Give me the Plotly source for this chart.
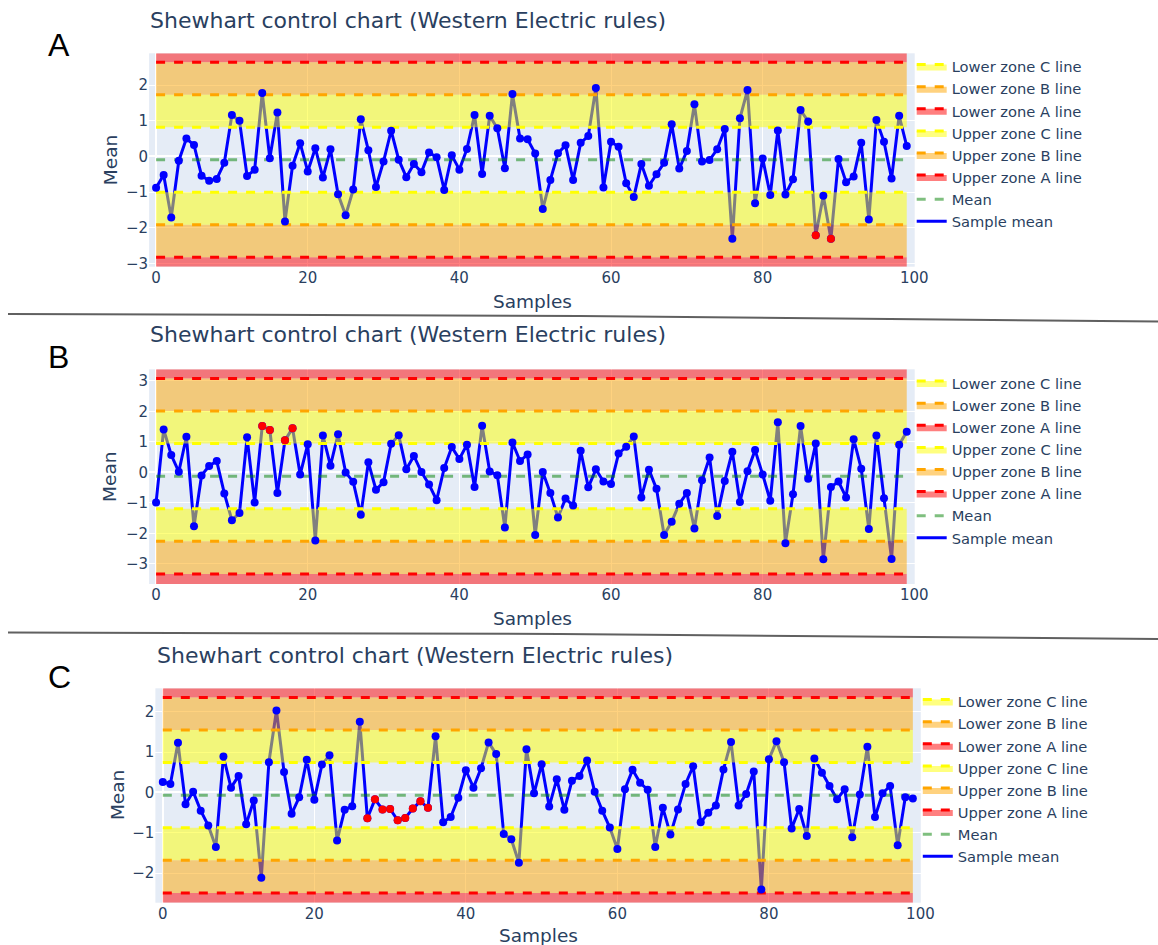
import plotly.graph_objects as go

W, H = 1158, 945

samples = list(range(100))

mean_A = [-0.88, -0.52, -1.71, -0.12, 0.50, 0.32, -0.54, -0.68, -0.63, -0.18,
          1.16, 1.00, -0.55, -0.37, 1.78, -0.05, 1.23, -1.82, -0.26, 0.37,
          -0.42, 0.23, -0.59, 0.20, -1.06, -1.65, -0.93, 1.04, 0.17, -0.86,
          -0.14, 0.72, -0.09, -0.58, -0.21, -0.44, 0.11, -0.02, -0.94, 0.03,
          -0.37, 0.21, 1.16, -0.49, 1.14, 0.79, -0.33, 1.75, 0.50, 0.48,
          0.08, -1.47, -0.66, 0.09, 0.31, -0.66, 0.38, 0.57, 1.92, -0.87,
          0.41, 0.27, -0.75, -1.14, -0.21, -0.82, -0.50, -0.18, 0.90, -0.34,
          0.15, 1.46, -0.14, -0.10, 0.20, 0.77, -2.31, 1.07, 1.86, -1.31,
          -0.06, -1.08, 0.73, -1.07, -0.64, 1.30, 0.98, -2.21, -1.10, -2.31,
          -0.07, -0.72, -0.56, 0.38, -1.77, 1.02, 0.41, -0.62, 1.14, 0.29]

mean_B = [-0.99, 1.41, 0.57, 0.02, 1.17, -1.77, -0.10, 0.21, 0.37, -0.69,
          -1.57, -1.33, 1.15, -0.99, 1.52, 1.39, -0.68, 1.05, 1.45, -0.07,
          0.92, -2.23, 1.21, 0.22, 1.25, 0.00, -0.31, -1.39, 0.33, -0.57,
          -0.32, 0.94, 1.22, 0.10, 0.54, 0.01, -0.40, -0.91, 0.14, 0.83,
          0.44, 0.91, -0.48, 1.53, 0.03, -0.09, -1.81, 0.98, 0.37, 0.59,
          -2.05, 0.01, -0.68, -1.48, -0.86, -1.09, 0.71, -0.49, 0.10, -0.30,
          -0.38, 0.62, 0.84, 1.18, -0.82, 0.09, -0.54, -2.05, -1.62, -1.03,
          -0.68, -1.84, -0.26, 0.49, -1.43, -0.28, 0.68, -0.97, 0.04, 0.73,
          -0.07, -0.93, 1.64, -2.32, -0.72, 1.52, -0.21, 0.95, -2.85, -0.48,
          -0.30, -0.82, 1.09, 0.12, -1.86, 1.21, -0.85, -2.84, 0.91, 1.33]

mean_C = [0.26, 0.21, 1.23, -0.29, 0.02, -0.45, -0.82, -1.35, 0.89, 0.12,
          0.41, -0.79, -0.20, -2.11, 0.75, 2.03, 0.51, -0.53, -0.12, 0.81,
          -0.18, 0.69, 0.92, -1.19, -0.43, -0.34, 1.75, -0.64, -0.17, -0.42,
          -0.41, -0.69, -0.63, -0.40, -0.22, -0.38, 1.39, -0.74, -0.61, -0.13,
          0.55, 0.12, 0.60, 1.24, 0.95, -1.03, -1.16, -1.74, 1.07, -0.02,
          0.70, -0.35, 0.33, -0.43, 0.29, 0.41, 0.79, 0.02, -0.45, -0.87,
          -1.40, 0.08, 0.56, 0.24, 0.07, -1.35, -0.38, -1.04, -0.42, 0.21,
          0.65, -0.74, -0.50, -0.32, 0.57, 1.25, -0.32, -0.04, 0.52, -2.40,
          0.82, 1.27, 0.75, -0.89, -0.41, -1.08, 0.84, 0.49, 0.16, -0.17,
          0.08, -1.11, -0.05, 1.13, -0.61, -0.02, 0.16, -1.31, -0.12, -0.15]

violations_A = [87, 89]
violations_B = [14, 15, 17, 18]
violations_C = [27, 28, 29, 30, 31, 32, 33, 34, 35]

center_lines = [-0.095, -0.125, -0.066]
sigmas = [0.911, 1.068, 0.807]
y_ranges = [[-3.09, 2.89], [-3.66, 3.38], [-2.73, 2.58]]
x_ranges = [[-0.92, 100.05], [-0.92, 100.05], [-0.98, 100.05]]

panel_letters = ["A", "B", "C"]
chart_title = "Shewhart control chart (Western Electric rules)"
x_title = "Samples"
y_title = "Mean"

# pixel geometry of each panel's plot area: left, top, right, bottom
plot_boxes = [(149.1, 53.3, 914.7, 266.7),
              (149.1, 369.3, 914.7, 584.0),
              (155.4, 688.3, 920.8, 902.7)]
title_pos = [(148, 20), (148, 335), (155.4, 655)]
letter_pos = [(58.5, 45), (58.5, 357), (59.2, 677)]
legend_pos = [(911.7, 50.5), (911.7, 367), (917.8, 685.5)]
ytitle_pos = [(110.2, 160), (110.2, 476.7), (117.6, 795.5)]
xtitle_pos = [(532, 301.7), (532, 618.3), (538, 935)]

FONT = "DejaVu Sans"
TXT = "#2a3f5f"


def px_x(x):
    return x / W


def px_y(y):
    return 1 - y / H


fig = go.Figure()

datasets = [(mean_A, violations_A), (mean_B, violations_B), (mean_C, violations_C)]
zone_colors = {"A": ("red", "rgba(255,0,0,0.5)"),
               "B": ("orange", "rgba(255,165,0,0.5)"),
               "C": ("yellow", "rgba(255,255,0,0.5)")}
zone_k = {"A": 3, "B": 2, "C": 1}

layout_axes = {}
annotations = []
legends = {}

for p, (vals, viol) in enumerate(datasets):
    suffix = "" if p == 0 else str(p + 1)
    xa, ya = "x" + suffix, "y" + suffix
    lg = "legend" + suffix
    c, s = center_lines[p], sigmas[p]
    yr = y_ranges[p]
    x_end = samples[-1]
    common = dict(xaxis=xa, yaxis=ya, legend=lg, hoverinfo="skip")

    fig.add_trace(go.Scatter(x=samples, y=vals, mode="lines", name="Sample mean",
                             line=dict(color="blue", width=3), **common))
    fig.add_trace(go.Scatter(x=[0, x_end], y=[c, c], mode="lines", name="Mean",
                             line=dict(color="rgba(0,128,0,0.5)", width=3, dash="dash"),
                             **common))
    # upper zones
    fig.add_trace(go.Scatter(x=[0, x_end], y=[yr[1], yr[1]], mode="lines",
                             line=dict(width=0, color="rgba(0,0,0,0)"), showlegend=False, **common))
    for z in ["A", "B", "C"]:
        col, fcol = zone_colors[z]
        v = c + zone_k[z] * s
        fig.add_trace(go.Scatter(x=[0, x_end], y=[v, v], mode="lines",
                                 name=f"Upper zone {z} line",
                                 line=dict(color=col, width=3, dash="dash"),
                                 fill="tonexty", fillcolor=fcol, **common))
    # lower zones
    fig.add_trace(go.Scatter(x=[0, x_end], y=[yr[0], yr[0]], mode="lines",
                             line=dict(width=0, color="rgba(0,0,0,0)"), showlegend=False, **common))
    for z in ["A", "B", "C"]:
        col, fcol = zone_colors[z]
        v = c - zone_k[z] * s
        fig.add_trace(go.Scatter(x=[0, x_end], y=[v, v], mode="lines",
                                 name=f"Lower zone {z} line",
                                 line=dict(color=col, width=3, dash="dash"),
                                 fill="tonexty", fillcolor=fcol, **common))
    # markers
    fig.add_trace(go.Scatter(x=samples, y=vals, mode="markers", showlegend=False,
                             marker=dict(color="blue", size=8), **common))
    fig.add_trace(go.Scatter(x=viol, y=[vals[i] for i in viol], mode="markers",
                             showlegend=False, marker=dict(color="red", size=8), **common))

    l, t, r, b = plot_boxes[p]
    axis_font = dict(family=FONT, size=15, color=TXT)
    layout_axes["xaxis" + suffix] = dict(
        domain=[px_x(l), px_x(r)], anchor=ya, range=x_ranges[p],
        tick0=0, dtick=20, tickfont=axis_font,
    )
    layout_axes["yaxis" + suffix] = dict(
        domain=[px_y(b), px_y(t)], anchor=xa, range=yr,
        dtick=1, tickfont=axis_font,
    )
    lx, ly = legend_pos[p]
    legends[lg] = dict(x=px_x(lx), y=px_y(ly), xanchor="left", yanchor="top",
                       traceorder="reversed", bgcolor="rgba(0,0,0,0)",
                       font=dict(family=FONT, size=14.7, color=TXT))
    tx, ty = title_pos[p]
    annotations.append(dict(text=chart_title, x=px_x(tx), y=px_y(ty), xref="paper",
                            yref="paper", xanchor="left", yanchor="middle",
                            showarrow=False,
                            font=dict(family=FONT, size=22, color=TXT)))
    yx, yy = ytitle_pos[p]
    annotations.append(dict(text=y_title, x=px_x(yx), y=px_y(yy), xref="paper",
                            yref="paper", xanchor="center", yanchor="middle",
                            textangle=-90, showarrow=False,
                            font=dict(family=FONT, size=18.5, color=TXT)))
    xx, xy = xtitle_pos[p]
    annotations.append(dict(text=x_title, x=px_x(xx), y=px_y(xy), xref="paper",
                            yref="paper", xanchor="center", yanchor="middle",
                            showarrow=False,
                            font=dict(family=FONT, size=18.5, color=TXT)))
    lx2, ly2 = letter_pos[p]
    annotations.append(dict(text=panel_letters[p], x=px_x(lx2), y=px_y(ly2), xref="paper",
                            yref="paper", xanchor="center", yanchor="middle",
                            showarrow=False,
                            font=dict(family="Liberation Sans, Arial", size=32, color="black")))

shapes = [
    dict(type="path", xref="paper", yref="paper",
         path=f"M {px_x(8)},{px_y(314)} L {px_x(580)},{px_y(316)} L {px_x(1158)},{px_y(321.5)}",
         line=dict(color="#606060", width=2)),
    dict(type="path", xref="paper", yref="paper",
         path=f"M {px_x(8)},{px_y(632.5)} L {px_x(560)},{px_y(634)} L {px_x(1158)},{px_y(639)}",
         line=dict(color="#606060", width=2)),
]

fig.update_layout(
    width=W, height=H,
    margin=dict(l=0, r=0, t=0, b=0, autoexpand=False),
    paper_bgcolor="white",
    plot_bgcolor="#E5ECF6",
    font=dict(family=FONT, color=TXT),
    annotations=annotations,
    shapes=shapes,
    **layout_axes,
    **legends,
)

fig.write_html("out.html", config={"displayModeBar": False},
               post_script="document.body.style.margin='0';")
